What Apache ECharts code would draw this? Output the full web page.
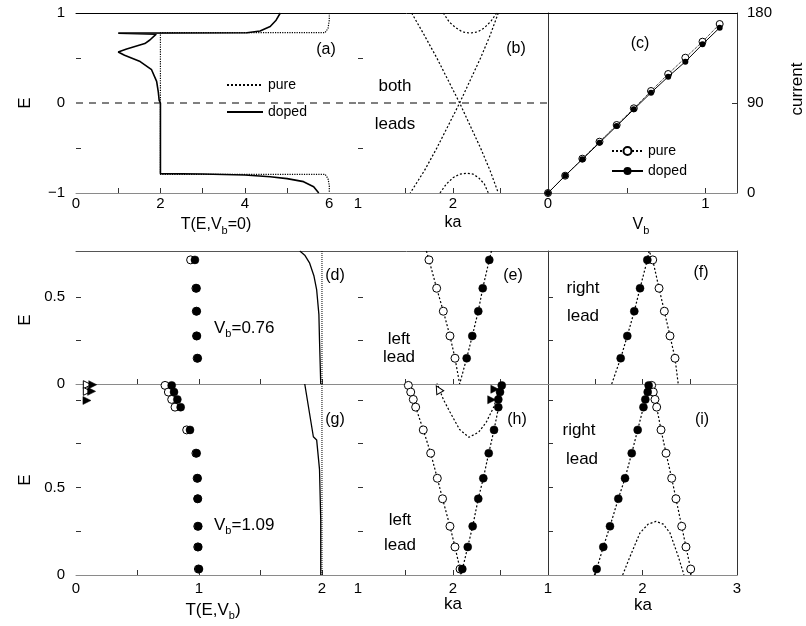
<!DOCTYPE html>
<html><head><meta charset="utf-8">
<script src="https://cdn.jsdelivr.net/npm/echarts@6/dist/echarts.min.js"></script>
<style>html,body{margin:0;padding:0;background:#fff}#c{width:806px;height:626px}</style>
</head><body><div id="c"></div>
<script>
const FONT = '"Liberation Sans", Arial, Helvetica, sans-serif';
const zip = (xs, ys) => xs.map((x, i) => [x, ys[i]]);

// ---------- panel (a): T(E, Vb=0) ----------
const aPureT  = [6.0, 6.0, 5.97, 5.9, 2.0, 2.0, 5.9, 5.97, 6.0, 6.0];
const aPureE  = [1.0, 0.92, 0.83, 0.781, 0.781, -0.792, -0.792, -0.84, -0.92, -1.0];
const aDopedT = [4.84, 4.74, 4.6, 4.36, 4.05, 1.0, 1.9, 1.87, 1.75, 1.63, 1.2, 1.0, 1.15, 1.52, 1.79, 1.91, 1.95, 1.97, 2.0, 2.0, 3.0, 4.0, 4.6, 5.0, 5.39, 5.63, 5.75];
const aDopedE = [1.0, 0.92, 0.85, 0.80, 0.78, 0.776, 0.765, 0.745, 0.70, 0.66, 0.60, 0.567, 0.53, 0.46, 0.37, 0.24, 0.12, 0.03, 0.0, -0.785, -0.789, -0.80, -0.819, -0.84, -0.874, -0.93, -1.0];
const zeroLineT = [0, 6.68];
const zeroLineKa = [1, 3];

// ---------- panel (b): lead bands ----------
const bBandE   = [1, 0.75, 0.5, 0.25, 0, -0.25, -0.5, -0.75, -1];
const bLine1Ka = [1.565, 1.70, 1.83, 1.95, 2.07, 2.18, 2.29, 2.39, 2.477];
const bLine2Ka = [2.477, 2.39, 2.29, 2.18, 2.07, 1.95, 1.83, 1.70, 1.55];
const bUpKa = [1.898, 1.96, 2.03, 2.10, 2.179, 2.26, 2.33, 2.40, 2.46];
const bUpE  = [1.0, 0.90, 0.835, 0.79, 0.776, 0.79, 0.835, 0.91, 1.0];
const bLoKa = [1.863, 1.93, 2.0, 2.07, 2.144, 2.21, 2.27, 2.33, 2.372];
const bLoE  = [-1, -0.9, -0.83, -0.79, -0.781, -0.79, -0.83, -0.9, -1];

// ---------- panel (c): current vs Vb ----------
const cVb      = [0, 0.109, 0.218, 0.327, 0.436, 0.545, 0.654, 0.763, 0.872, 0.981, 1.09];
const cPureI   = [0, 17.3, 34.3, 51.3, 68, 84.7, 102, 119, 135.3, 151.3, 169];
const cDopedI  = [0, 17.3, 33.7, 50.3, 67, 83.7, 100.3, 116.3, 131.3, 148.7, 165.3];

// ---------- panels (d),(e),(f): Vb = 0.76 ----------
const dE       = [0.713, 0.55, 0.418, 0.276, 0.148];
const dPureT   = [0.932, 0.975, 0.978, 0.98, 0.985];
const dDopedT  = [0.967, 0.98, 0.982, 0.983, 0.99];
const dCurveT  = [1.82, 1.86, 1.90, 1.935, 1.957, 1.975, 1.98, 1.99];
const dCurveE  = [0.764, 0.74, 0.694, 0.62, 0.54, 0.40, 0.253, 0];
const dVertT   = [2, 2];
const dVertE   = [0, 0.764];
const eOpenKa  = [1.747, 1.828, 1.898, 1.968, 2.021];
const eFillKa  = [2.382, 2.313, 2.266, 2.203, 2.144];
const eBandKa  = [1.72, 1.747, 1.828, 1.898, 1.968, 2.021, 2.07, 2.144, 2.203, 2.266, 2.313, 2.382, 2.405];
const eBandE   = [0.764, 0.713, 0.55, 0.418, 0.276, 0.148, 0, 0.148, 0.276, 0.418, 0.55, 0.713, 0.764];
const fFillKa  = [2.051, 1.974, 1.913, 1.839, 1.769];
const fOpenKa  = [2.108, 2.175, 2.231, 2.291, 2.344];
const fBandKa  = [1.674, 1.769, 1.839, 1.913, 1.974, 2.051, 2.07, 2.108, 2.175, 2.231, 2.291, 2.344, 2.378];
const fBandE   = [0, 0.148, 0.276, 0.418, 0.55, 0.713, 0.764, 0.713, 0.55, 0.418, 0.276, 0.148, 0];

// ---------- panels (g),(h),(i): Vb = 1.09 ----------
const gE       = [1.082, 1.044, 1.002, 0.958, 0.828, 0.695, 0.552, 0.435, 0.278, 0.16, 0.034];
const gPureT   = [0.724, 0.751, 0.778, 0.805, 0.900, 0.975, 0.985, 0.99, 0.99, 0.99, 0.995];
const gDopedT  = [0.778, 0.797, 0.824, 0.851, 0.927, 0.981, 0.989, 0.989, 0.994, 0.994, 1.0];
const gTriOpenT  = [0.092, 0.092];
const gTriOpenE  = [1.086, 1.048];
const gTriFillT  = [0.136, 0.127, 0.089];
const gTriFillE  = [1.086, 1.048, 0.996];
const gCurveT  = [1.86, 1.93, 1.957, 1.98, 1.99, 1.99];
const gCurveE  = [1.09, 0.789, 0.77, 0.603, 0.316, 0];
const gVertT   = [2, 2];
const gVertE   = [0, 1.09];
const hOpenKa  = [1.53, 1.555, 1.582, 1.607, 1.687, 1.765, 1.835, 1.89, 1.968, 2.021, 2.074];
const hFillKa  = [2.513, 2.495, 2.477, 2.477, 2.432, 2.376, 2.319, 2.266, 2.207, 2.155, 2.098];
const hBandKa  = [1.52, 1.607, 1.687, 1.765, 1.835, 1.89, 1.968, 2.021, 2.074, 2.085, 2.09, 2.155, 2.207, 2.266, 2.319, 2.376, 2.432, 2.48, 2.52];
const hBandE   = [1.09, 0.958, 0.828, 0.695, 0.552, 0.435, 0.278, 0.16, 0.034, 0, 0, 0.16, 0.278, 0.435, 0.552, 0.695, 0.828, 0.958, 1.09];
const hParKa   = [1.828, 1.90, 1.968, 2.07, 2.168, 2.27, 2.35, 2.43, 2.51];
const hParE    = [1.10, 1.0, 0.93, 0.83, 0.786, 0.815, 0.872, 0.96, 1.10];
const hTriOpenKa = [1.845];
const hTriOpenE  = [1.06];
const hTriFillKa = [2.44, 2.407];
const hTriFillE  = [1.06, 1.0];
const iFillKa  = [2.065, 2.055, 2.03, 2.01, 1.949, 1.886, 1.815, 1.744, 1.656, 1.585, 1.515];
const iOpenKa  = [2.097, 2.114, 2.132, 2.150, 2.196, 2.249, 2.309, 2.354, 2.415, 2.460, 2.510];
const iBandKa  = [1.49, 1.515, 1.585, 1.656, 1.744, 1.815, 1.886, 1.949, 2.01, 2.055, 2.07, 2.097, 2.150, 2.196, 2.249, 2.309, 2.354, 2.415, 2.460, 2.510, 2.515];
const iBandE   = [0, 0.034, 0.16, 0.278, 0.435, 0.552, 0.695, 0.828, 0.958, 1.044, 1.10, 1.082, 0.958, 0.828, 0.695, 0.552, 0.435, 0.278, 0.16, 0.034, 0];
const iParKa   = [1.79, 1.868, 1.973, 2.06, 2.143, 2.22, 2.291, 2.379, 2.439];
const iParE    = [0, 0.105, 0.24, 0.29, 0.306, 0.29, 0.24, 0.105, 0];

// ---------- layout ----------
const grids = [
  {left: 76,  top: 13,  width: 282, height: 180},  // a
  {left: 358, top: 13,  width: 190, height: 180},  // b
  {left: 548, top: 13,  width: 189, height: 180},  // c
  {left: 76,  top: 251, width: 282, height: 133},  // d
  {left: 358, top: 251, width: 190, height: 133},  // e
  {left: 548, top: 251, width: 189, height: 133},  // f
  {left: 76,  top: 384, width: 282, height: 191},  // g
  {left: 358, top: 384, width: 190, height: 191},  // h
  {left: 548, top: 384, width: 189, height: 191},  // i
  {left: 76,  top: 13,  width: 661, height: 180},  // frame row1
  {left: 76,  top: 251, width: 661, height: 133}   // frame row2
];

const fmtNum = v => String(Math.round(v * 1000) / 1000).replace('-', '\u2212');
const tick = (vals, len) => ({show: vals.length > 0, inside: true, length: len || 5, customValues: vals, lineStyle: {color: '#333', width: 1}});
const lab = (vals, margin) => ({show: vals.length > 0, customValues: vals, margin: margin, fontSize: 15, fontFamily: FONT, color: '#000',
  formatter: v => vals.some(s => Math.abs(s - v) < 1e-6) ? fmtNum(v) : ''});
const aLine = c => ({show: true, onZero: false, lineStyle: {color: c, width: 1}});
const noLine = {show: false, onZero: false};

function xAx(gi, min, max, ticks, labels, margin, line, pos) {
  return {type: 'value', gridIndex: gi, min, max, position: pos || 'bottom', axisLine: line || aLine('#8a8a8a'),
    axisTick: tick(ticks), axisLabel: lab(labels, margin), splitLine: {show: false}};
}
function yAx(gi, min, max, ticks, labels, line, pos) {
  return {type: 'value', gridIndex: gi, min, max, position: pos || 'left', axisLine: line || noLine,
    axisTick: tick(ticks), axisLabel: lab(labels, pos === 'right' ? 10 : 11), splitLine: {show: false}};
}

const xAxis = [
  xAx(0, 0, 6.68, [1, 2, 3, 4, 5], [0, 2, 4, 6], 3),
  xAx(1, 1, 3, [1.5, 2, 2.5], [1, 2], 3),
  xAx(2, 0, 1.2, [0.5, 1], [0, 1], 3),
  xAx(3, 0, 2.293, [0.5, 1, 1.5, 2], [], 6),
  xAx(4, 1, 3, [1.5, 2, 2.5], [], 6),
  xAx(5, 1, 3, [1.5, 2, 2.5], [], 6),
  xAx(6, 0, 2.293, [0.5, 1, 1.5, 2], [0, 1, 2], 6),
  xAx(7, 1, 3, [1.5, 2, 2.5], [1, 2], 6),
  xAx(8, 1, 3, [1.5, 2, 2.5], [1, 2, 3], 6),
  xAx(9, 0, 1, [], [], 0, aLine('#000'), 'top'),
  xAx(10, 0, 1, [], [], 0, aLine('#555'), 'top')
];
const yAxis = [
  yAx(0, -1, 1, [-0.5, 0.5], [-1, 0, 1]),
  yAx(1, -1, 1, [-0.5, 0.5], []),
  yAx(2, -1, 1, [], [], aLine('#333')),
  yAx(2, 0, 180, [90], [0, 90, 180], aLine('#333'), 'right'),
  yAx(3, 0, 0.764, [0.25, 0.5], [0, 0.5]),
  yAx(4, 0, 0.764, [0.25, 0.5], []),
  yAx(5, 0, 0.764, [0.25, 0.5], [], aLine('#333')),
  yAx(5, 0, 0.764, [], [], aLine('#333'), 'right'),
  yAx(6, 0, 1.09, [0.25, 0.5, 0.75, 1.0], [0, 0.5]),
  yAx(7, 0, 1.09, [0.25, 0.5, 0.75, 1.0], []),
  yAx(8, 0, 1.09, [0.25, 0.5, 0.75, 1.0], [], aLine('#333')),
  yAx(8, 0, 1.09, [], [], aLine('#333'), 'right'),
  {type: 'value', gridIndex: 9, show: false},
  {type: 'value', gridIndex: 10, show: false}
];

function line(xi, yi, data, type, width, extra) {
  return Object.assign({type: 'line', xAxisIndex: xi, yAxisIndex: yi, data, symbol: 'none', silent: true, z: 2,
    itemStyle: {color: '#000'}, lineStyle: {color: '#000', width: width, type: type}}, extra || {});
}
function pts(xi, yi, data, symbol, size, open, extra) {
  return Object.assign({type: 'scatter', xAxisIndex: xi, yAxisIndex: yi, data, symbol, symbolSize: size, silent: true, z: open ? 3 : 4,
    itemStyle: open ? {color: '#fff', borderColor: '#000', borderWidth: 1, opacity: 1} : {color: '#000', borderColor: '#000', borderWidth: 0.5, opacity: 1}}, extra || {});
}
const DASH = [7, 6];
const DOT = [2, 2];

const series = [
  // (a)
  line(0, 0, zip(zeroLineT, [0, 0]), DASH, 1, {name: 'zero-a'}),
  line(0, 0, zip(aPureT, aPureE), 'dotted', 1.2, {name: 'pure'}),
  line(0, 0, zip(aDopedT, aDopedE), 'solid', 1.6, {name: 'doped'}),
  // (b)
  line(1, 1, zip(zeroLineKa, [0, 0]), DASH, 1),
  line(1, 1, zip(bLine1Ka, bBandE), DOT, 1.2),
  line(1, 1, zip(bLine2Ka, bBandE), DOT, 1.2),
  line(1, 1, zip(bUpKa, bUpE), DOT, 1.2),
  line(1, 1, zip(bLoKa, bLoE), DOT, 1.2),
  // (c)
  Object.assign(line(2, 3, zip(cVb, cPureI), 'dotted', 1, {name: 'pure '}),
    {symbol: 'circle', symbolSize: 7, showSymbol: true, itemStyle: {color: '#fff', borderColor: '#000', borderWidth: 1}, z: 3}),
  Object.assign(line(2, 3, zip(cVb, cDopedI), 'solid', 1, {name: 'doped '}),
    {symbol: 'circle', symbolSize: 6, showSymbol: true, itemStyle: {color: '#000'}, z: 4}),
  // (d)
  line(3, 4, zip(dVertT, dVertE), 'dotted', 1),
  line(3, 4, zip(dCurveT, dCurveE), 'solid', 1.3),
  pts(3, 4, zip(dPureT, dE), 'circle', 8, true),
  pts(3, 4, zip(dDopedT, dE), 'circle', 8, false),
  // (e)
  line(4, 5, zip(eBandKa, eBandE), DOT, 1.2),
  pts(4, 5, zip(eOpenKa, dE), 'circle', 8, true),
  pts(4, 5, zip(eFillKa, dE), 'circle', 8, false),
  // (f)
  line(5, 6, zip(fBandKa, fBandE), DOT, 1.2),
  pts(5, 6, zip(fOpenKa, dE), 'circle', 8, true),
  pts(5, 6, zip(fFillKa, dE), 'circle', 8, false),
  // (g)
  line(6, 8, zip(gVertT, gVertE), 'dotted', 1),
  line(6, 8, zip(gCurveT, gCurveE), 'solid', 1.3),
  pts(6, 8, zip(gPureT, gE), 'circle', 8, true),
  pts(6, 8, zip(gDopedT, gE), 'circle', 8, false),
  pts(6, 8, zip(gTriOpenT, gTriOpenE), 'triangle', 8, true, {symbolRotate: -90}),
  pts(6, 8, zip(gTriFillT, gTriFillE), 'triangle', 8, false, {symbolRotate: -90}),
  // (h)
  line(7, 9, zip(hBandKa, hBandE), DOT, 1.2),
  line(7, 9, zip(hParKa, hParE), DOT, 1.2),
  pts(7, 9, zip(hOpenKa, gE), 'circle', 8, true),
  pts(7, 9, zip(hFillKa, gE), 'circle', 8, false),
  pts(7, 9, zip(hTriOpenKa, hTriOpenE), 'triangle', 8, true, {symbolRotate: 30}),
  pts(7, 9, zip(hTriFillKa, hTriFillE), 'triangle', 8, false, {symbolRotate: -90}),
  // (i)
  line(8, 10, zip(iBandKa, iBandE), DOT, 1.2),
  line(8, 10, zip(iParKa, iParE), DOT, 1.2),
  pts(8, 10, zip(iOpenKa, gE), 'circle', 8, true),
  pts(8, 10, zip(iFillKa, gE), 'circle', 8, false)
];

// ---------- texts ----------
function txt(x, y, text, size, opt) {
  opt = opt || {};
  return {type: 'text', x, y, rotation: opt.rot || 0, silent: true, z: 10,
    style: Object.assign({text, fill: '#000', font: size + 'px ' + FONT, align: opt.align || 'center', verticalAlign: 'middle'}, opt.style || {})};
}
function subTxt(x, y, main, s, after, size, align) {
  const rich = {
    n: {fontSize: size, fontFamily: FONT, lineHeight: size + 6, fill: '#000'},
    s: {fontSize: Math.round(size * 0.66), fontFamily: FONT, lineHeight: 10, verticalAlign: 'bottom', fill: '#000'}
  };
  let t = '{n|' + main + '}{s|' + s + '}';
  if (after) t += '{n|' + after + '}';
  return {type: 'text', x, y, silent: true, z: 10,
    style: {text: t, rich, font: size + 'px ' + FONT, fill: '#000', align: align || 'center', verticalAlign: 'middle'}};
}

const graphic = [
  txt(25, 103, 'E', 17, {rot: Math.PI / 2}),
  txt(25, 320, 'E', 17, {rot: Math.PI / 2}),
  txt(25, 480, 'E', 17, {rot: Math.PI / 2}),
  txt(797, 89, 'current', 17, {rot: Math.PI / 2}),
  subTxt(216, 225, 'T(E,V', 'b', '=0)', 16),
  txt(453, 223, 'ka', 16),
  subTxt(641, 225, 'V', 'b', '', 16),
  subTxt(213, 610, 'T(E,V', 'b', ')', 17),
  txt(453, 604, 'ka', 17),
  txt(643, 605, 'ka', 17),
  txt(395, 86, 'both', 17),
  txt(395, 124, 'leads', 17),
  txt(326, 50, '(a)', 16), txt(516, 49, '(b)', 16), txt(640, 44, '(c)', 16),
  txt(335, 276, '(d)', 16), txt(513, 276, '(e)', 16), txt(701, 273, '(f)', 16),
  txt(335, 420, '(g)', 16), txt(517, 420, '(h)', 16), txt(702, 420, '(i)', 16),
  subTxt(214, 328, 'V', 'b', '=0.76', 17, 'left'),
  subTxt(214, 525, 'V', 'b', '=1.09', 17, 'left'),
  txt(399, 339, 'left', 17), txt(399, 357, 'lead', 17),
  txt(400, 520, 'left', 17), txt(400, 545, 'lead', 17),
  txt(583, 288, 'right', 17), txt(583, 316, 'lead', 17),
  txt(579, 430, 'right', 17), txt(582, 459, 'lead', 17)
];

const chart = echarts.init(document.getElementById('c'), null, {renderer: 'canvas'});
chart.setOption({
  animation: false,
  backgroundColor: '#fff',
  grid: grids,
  xAxis, yAxis, series, graphic,
  legend: [
    {left: 226, top: 78, orient: 'vertical', itemWidth: 36, itemHeight: 12, itemGap: 13, padding: 0, selectedMode: false,
      itemStyle: {opacity: 0},
      data: ['pure', 'doped'], textStyle: {fontSize: 14, fontFamily: FONT, color: '#000'}},
    {left: 611, top: 144, orient: 'vertical', itemWidth: 31, itemHeight: 10, itemGap: 6, padding: 0, selectedMode: false,
      data: ['pure ', 'doped '], formatter: n => n.trim(), textStyle: {fontSize: 14, fontFamily: FONT, color: '#000'}}
  ]
});
</script>
</body></html>
